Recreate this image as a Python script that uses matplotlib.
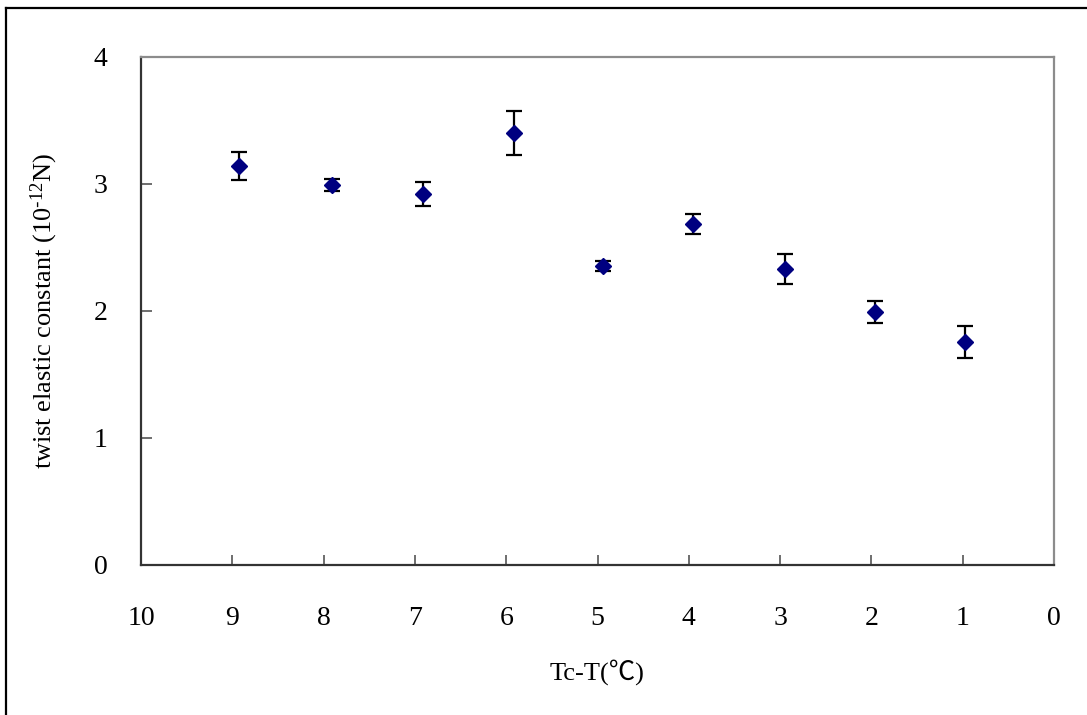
import matplotlib
matplotlib.use("Agg")
import matplotlib.pyplot as plt
from matplotlib.lines import Line2D

plt.rcParams["font.family"] = ["Liberation Serif", "Noto Sans CJK TC", "DejaVu Serif"]
plt.rcParams["mathtext.default"] = "regular"

# Temperature below the clearing point and measured twist constant
delta_t = [8.93, 7.91, 6.91, 5.92, 4.94, 3.95, 2.95, 1.96, 0.97]
k22 = [3.14, 2.99, 2.915, 3.40, 2.35, 2.68, 2.33, 1.99, 1.75]
k22_err = [0.11, 0.048, 0.096, 0.173, 0.04, 0.08, 0.118, 0.088, 0.126]

x_ticks = [10, 9, 8, 7, 6, 5, 4, 3, 2, 1, 0]
y_ticks = [0, 1, 2, 3, 4]

fig = plt.figure(figsize=(10.87, 7.15), dpi=100)
ax = fig.add_axes([141 / 1087, 1 - 564.5 / 715, (1054 - 141) / 1087, (564.5 - 56.5) / 715])

ax.errorbar(delta_t, k22, yerr=k22_err, fmt="D", color="#000080", ms=8.5,
            ecolor="black", elinewidth=1.6, capsize=5.5, capthick=1.6, zorder=3)

ax.set_xlim(10, 0)
ax.set_ylim(0, 4)
ax.set_xticks(x_ticks)
ax.set_yticks(y_ticks)
ax.set_xticklabels([str(v) for v in x_ticks])
ax.set_yticklabels([str(v) for v in y_ticks])

ax.tick_params(axis="x", direction="in", length=7, width=1.2, color="#555555",
               labelsize=20, pad=30)
ax.tick_params(axis="y", direction="in", length=8, width=1.2, color="#555555",
               labelsize=20, pad=24)

for side in ("left", "bottom"):
    ax.spines[side].set_color("#333333")
    ax.spines[side].set_linewidth(1.6)
for side in ("top", "right"):
    ax.spines[side].set_color("#8c8c8c")
    ax.spines[side].set_linewidth(1.6)

ax.set_xlabel("Tc-T(\u2103)", fontsize=19, labelpad=20)
ax.set_ylabel("twist elastic constant (10$^{\\text{-}12}$N)", fontsize=19, labelpad=24)

# Outer chart frame (left and top edges)
fig.add_artist(Line2D([6 / 1087, 6 / 1087], [0, 1 - 7.5 / 715],
                      transform=fig.transFigure, color="black", lw=1.6))
fig.add_artist(Line2D([6 / 1087, 1], [1 - 7.5 / 715, 1 - 7.5 / 715],
                      transform=fig.transFigure, color="black", lw=1.6))

fig.savefig("out.png", dpi=100)
